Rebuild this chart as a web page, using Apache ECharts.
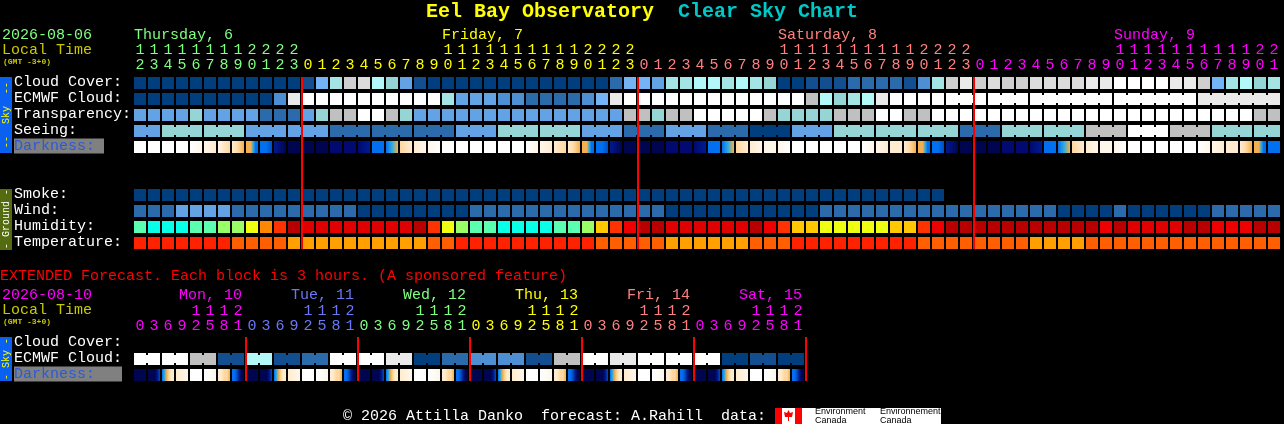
<!DOCTYPE html>
<html><head><meta charset="utf-8">
<style>html,body{margin:0;padding:0;background:#000}#c{width:1284px;height:424px}</style>
<script src="https://cdn.jsdelivr.net/npm/echarts@6/dist/echarts.min.js"></script>
</head><body><div id="c"></div>
<script>
// ---------- data ----------
const hourLabels=[12,13,14,15,16,17,18,19,20,21,22,23,
 0,1,2,3,4,5,6,7,8,9,10,11,12,13,14,15,16,17,18,19,20,21,22,23,
 0,1,2,3,4,5,6,7,8,9,10,11,12,13,14,15,16,17,18,19,20,21,22,23,
 0,1,2,3,4,5,6,7,8,9,10,11,12,13,14,15,16,17,18,19,20,21];
const extHourLabels=[0,3,6,9,12,15,18,21,0,3,6,9,12,15,18,21,0,3,6,9,12,15,18,21,0,3,6,9,12,15,18,21,0,3,6,9,12,15,18,21,0,3,6,9,12,15,18,21];
const rowNames=['Cloud Cover:','ECMWF Cloud:','Transparency:','Seeing:','Darkness:','','','Smoke:','Wind:','Humidity:','Temperature:'];
const extRowNames=['Cloud Cover:','ECMWF Cloud:','Darkness:'];
const dayNames=['Thursday, 6','Friday, 7','Saturday, 8','Sunday, 9'];
const dayCols=[0,22,46,70];
const extDayNames=['Mon, 10','Tue, 11','Wed, 12','Thu, 13','Fri, 14','Sat, 15'];
const extDayCols=[3,11,19,27,35,43];
const midnightCols=[12,36,60];
const extMidnightCols=[8,16,24,32,40,48];

const cloudCover=[0,0,0,0,0,0,0,0,0,0,0,0,1,5,7,10,11,8,6,4,1,0,
 0,0,0,0,0,0,0,0,0,0,0,0,2,5,5,4,7,7,8,8,7,8,7,6,0,0,1,1,1,2,
 2,2,2,1,3,7,10,12,10,11,10,10,11,11,11,11,12,12,13,13,13,13,12,12,10,5,7,8,6,7];
const ecmwfCloud=[0,0,0,0,0,0,0,0,0,0,3,12,13,13,13,13,13,13,13,13,13,13,
 7,4,4,4,3,3,2,2,2,2,3,5,12,13,13,13,13,13,13,13,13,13,13,13,13,13,9,8,6,7,
 8,12,
 13,13,13,13,13,13,13,13,13,13,
 13,13,13,13,13,13,13,13,13,13,
 13,13,
 12,12,12,12,12,12];
const ecmwfMergedFrom=[58,61,64,70,76];
const ecmwfMergedSpans=[3,3,6,6,6];
const transparency=[4,4,4,4,6,4,4,4,4,2,2,2,4,6,9,9,13,13,9,6,4,4,
 4,4,4,4,4,4,4,4,4,4,4,4,4,9,9,6,9,9,13,13,13,13,13,9,6,6,6,6,9,9,
 9,13,13,9,9,
 13,13,13,13,13,13,13,13,13,13,
 13,13,13,13,13,13,13,13,13,13,
 13,13,13,
 9,9];
const seeingBlocks=[4,6,6,4,4,2,2,2,4,6,6,4,2,4,2,0,4,6,6,6,2,6,6,9,13,9,6,6];
const seeingSpans=[2,3,3,3,3,3,3,3,3,3,3,3,3,3,3,3,3,3,3,3,3,3,3,3,3,3,3,2];
const SUNSET=[4,4,4,5,6,6];
const darkness=[[0],[0],[0],[0],[0,1],[1,2],[1,3],[2,3,4],SUNSET,[6,6,7],[8,10],[10],
 [10],[10],[9],[9],[9,8],[6,6],[6,5,4],[3,2],[2,1],[1,0],[0],[0],
 [0],[0],[0],[0],[0,1],[1,2],[2,3],[2,3,4],SUNSET,[6,6,7],[8,10],[10],
 [10],[10],[9],[9],[9,8],[6,6],[6,5,4],[3,2],[2,1],[1],[1,0],[0],
 [0],[0],[0],[0],[0,1],[1,2],[2],[2,3,4],SUNSET,[6,6,7],[8,10],[10],
 [10],[10],[9],[9],[9,8],[6,6],[6,5,4],[3,2],[2,1],[1],[1,0],[0],
 [0],[0],[0],[0],[0,1],[1,2],[2],[2,3,4],SUNSET,[6,6]];
const smoke=[0,0,0,0,0,0,0,0,0,0,
 0,0,0,0,0,0,0,0,0,0,
 0,0,0,0,0,0,0,0,0,0,
 0,0,0,0,0,0,0,0,0,0,
 0,0,0,0,0,0,0,0,0,0,
 0,0,0,0,0,0,0,0];
const wind=[2,2,2,4,4,4,4,2,2,2,2,2,2,2,2,2,0,0,0,0,0,0,
 0,0,2,2,2,2,2,2,2,2,2,2,2,2,2,2,0,0,0,0,0,0,0,0,0,0,0,2,2,2,
 2,2,2,2,2,2,2,2,2,2,2,2,2,2,0,0,0,0,2,0,0,0,0,0,0,2,2,2,2,2];
const humidity=[1,0,0,0,1,1,2,2,3,5,6,9,8,8,8,8,8,8,8,8,9,6,
 3,2,1,1,0,0,0,0,1,1,2,4,6,7,9,9,8,8,8,8,8,8,9,7,6,4,4,3,3,3,
 3,3,4,4,6,7,9,9,9,9,9,9,9,9,9,9,9,7,9,8,8,8,8,9,9,7,7,7,9,9];
const temperature=[0,0,0,0,0,0,0,1,1,1,1,2,2,2,2,2,2,2,2,2,2,1,
 1,0,0,0,0,0,0,0,0,0,0,1,1,1,1,1,2,2,2,2,2,2,1,1,1,0,0,0,0,0,
 0,0,0,0,1,1,1,1,1,1,1,1,2,2,2,2,1,1,1,1,1,1,1,1,1,1,1,1,1,1];
const extEcmwfBlocks=[13,13,9,1,8,1,2,13,13,12,0,2,3,3,1,9,13,12,13,13,13,0,1,0];
const extDarkness=[[10],[10,10,10,10,8,7],[6,5,4,3,2,2],[2,1],[0],[0,1],[2,2,3,3,4],[6,6,7,8,10,10]];

// ---------- colour scales ----------
const skyColors=['#003e7e','#134f90','#2c6bab','#4e8fd3','#63a2e4','#75b3f7','#95d5d5','#a4e4e4','#b2f8f8','#c0c0c0','#cfcfcf','#dcdcdc','#eaeaea','#ffffff'];
const humColors=['#08ffe8','#5affaf','#99ff66','#eeff11','#ffc800','#ff8800','#ff3300','#ee0000','#e00000','#b80000'];
const tempColors=['#ff2200','#ff5f00','#ffa000'];
const darkColors=['#ffffff','#fff6ea','#ffecd0','#ffd8a0','#f4b050','#33aadd','#0070f0','#0050c0','#001a90','#000a70','#000550'];
const FONT='"Liberation Mono"';
const dayColor={g:'#80ff80',y:'#ffff00',s:'#ff8080',m:'#ff00ff',b:'#6a78f8'};
const rich={};Object.keys(dayColor).forEach(k=>rich[k]={color:dayColor[k],fontFamily:FONT,fontSize:15,lineHeight:15});

const single=a=>a.map(v=>[v,0]);
function expand(vals,spans){const out=[];vals.forEach((v,i)=>{for(let k=0;k<spans[i];k++)out.push([v,k<spans[i]-1?1:0]);});return out;}
function merged(vals,froms,spans){const out=single(vals);froms.forEach((f,i)=>{for(let k=0;k<spans[i]-1;k++)out[f+k][1]=1;});return out;}
function cellSeries(name,gridIdx,row,cells,colors){
  const data=cells.map((c,i)=>[i,row,c[0],c[1]]);
  return {name,type:'custom',xAxisIndex:gridIdx,yAxisIndex:gridIdx,data,encode:{x:0,y:1},silent:true,clip:false,animation:false,
    renderItem(p,api){
      const pt=api.coord([api.value(0),api.value(1)]),sz=api.size([1,1]);
      const w=sz[0]-2,h=sz[1]-4,x=pt[0]-w/2,y=pt[1]-h/2,fill=colors[api.value(2)];
      const ch=[{type:'rect',shape:{x,y,width:w,height:h},style:{fill}}];
      if(api.value(3))ch.push({type:'rect',shape:{x:x+w,y:y+2,width:2,height:h-4},style:{fill}});
      return {type:'group',children:ch};
    }};
}
function darkSeries(gridIdx,row,samples){
  return {name:'Darkness',type:'custom',xAxisIndex:gridIdx,yAxisIndex:gridIdx,data:samples.map((s,i)=>[i,row]),encode:{x:0,y:1},silent:true,animation:false,
    renderItem(p,api){
      const c=api.value(0),pt=api.coord([c,api.value(1)]),sz=api.size([1,1]),s=samples[c];
      const w=sz[0]-2,h=sz[1]-4;
      const stops=s.length===1?[{offset:0,color:darkColors[s[0]]},{offset:1,color:darkColors[s[0]]}]:s.map((v,i)=>({offset:i/(s.length-1),color:darkColors[v]}));
      return {type:'rect',shape:{x:pt[0]-w/2,y:pt[1]-h/2,width:w,height:h},style:{fill:{type:'linear',x:0,y:0,x2:1,y2:0,colorStops:stops}}};
    }};
}
function lineSeries(gridIdx,cols,lastRow,colCount){
  return {name:'Midnight',type:'custom',xAxisIndex:gridIdx,yAxisIndex:gridIdx,data:cols.map(c=>[c,0]),encode:{x:0,y:1},silent:true,clip:false,animation:false,z:5,
    renderItem(p,api){
      const c=api.value(0),sz=api.size([1,1]),k=Math.min(c,colCount-1);
      const a=api.coord([k,0]),b=api.coord([k,lastRow]),over=(c-k)*sz[0];
      return {type:'rect',shape:{x:a[0]-sz[0]/2+over,y:a[1]-sz[1]/2+2,width:2,height:b[1]-a[1]+sz[1]-4},style:{fill:'#ff0000'}};
    }};
}
function headSeries(gridIdx,names,cols,colors,dx,dy){
  return {name:'Days',type:'custom',xAxisIndex:gridIdx,yAxisIndex:gridIdx,data:names.map((n,i)=>[cols[i],0,i]),encode:{x:0,y:1},silent:true,clip:false,animation:false,
    renderItem(p,api){
      const i=api.value(2),pt=api.coord([api.value(0),0]);
      return {type:'text',x:pt[0]+dx,y:pt[1]+dy,style:{text:names[i],fill:colors[i],font:'15px '+FONT,textAlign:'left',textVerticalAlign:'middle'}};
    }};
}
function rowAxis(gridIdx,names,grey){
  return {gridIndex:gridIdx,type:'category',inverse:true,data:names,axisLine:{show:false},axisTick:{show:false},splitLine:{show:false},
    axisLabel:{show:true,interval:0,align:'left',margin:119,padding:[0,0,2,0],
      formatter:v=>v==='Darkness:'?'{d|'+v+'}':'{w|'+v+'}',
      rich:{w:{color:'#fff',fontFamily:FONT,fontSize:15,lineHeight:16},
            d:{color:'#2a5ad8',fontFamily:FONT,fontSize:15,backgroundColor:'#808080',width:grey,height:15,lineHeight:15}}}};
}
function hourAxis(gridIdx,labels,keyOf,margin){
  return {gridIndex:gridIdx,type:'category',position:'top',data:labels.map(String),axisLine:{show:false},axisTick:{show:false},splitLine:{show:false},
    axisLabel:{show:true,interval:0,hideOverlap:false,margin,rich,
      formatter:(v,i)=>{const k=keyOf(i),n=+v;return '{'+k+'|'+(n>=10?Math.floor(n/10):' ')+'}\n{'+k+'|'+(n%10)+'}';}}};
}
const txt=(text,x,y,fill,size,weight)=>({type:'text',x,y,style:{text,fill,font:(weight||'normal')+' '+size+'px '+FONT,textVerticalAlign:'middle'}});
const vtxt=(text,cx,cy,fill)=>({type:'text',x:cx,y:cy,rotation:Math.PI/2,style:{text,fill,font:'10px '+FONT,textAlign:'center',textVerticalAlign:'middle'}});
const box=(x,y,width,height,fill)=>({type:'rect',shape:{x,y,width,height},style:{fill}});
const logoTxt=(text,x,y)=>({type:'text',x,y,style:{text,fill:'#000',font:'9px "Liberation Sans"',textVerticalAlign:'middle'}});

const option={
  backgroundColor:'#000',animation:false,
  grid:[{left:133,top:75,width:82*14,height:176},{left:133,top:335,width:48*14,height:48}],
  xAxis:[hourAxis(0,hourLabels,i=>i<12?'g':i<36?'y':i<60?'s':'m',2),
         hourAxis(1,extHourLabels,i=>['m','b','g','y','s','m'][Math.floor(i/8)],1)],
  yAxis:[rowAxis(0,rowNames,90),rowAxis(1,extRowNames,108)],
  series:[
    cellSeries('Cloud Cover',0,0,single(cloudCover),skyColors),
    cellSeries('ECMWF Cloud',0,1,merged(ecmwfCloud,ecmwfMergedFrom,ecmwfMergedSpans),skyColors),
    cellSeries('Transparency',0,2,single(transparency),skyColors),
    cellSeries('Seeing',0,3,expand(seeingBlocks,seeingSpans),skyColors),
    darkSeries(0,4,darkness),
    cellSeries('Smoke',0,7,single(smoke),skyColors),
    cellSeries('Wind',0,8,single(wind),skyColors),
    cellSeries('Humidity',0,9,single(humidity),humColors),
    cellSeries('Temperature',0,10,single(temperature),tempColors),
    lineSeries(0,midnightCols,10,82),
    headSeries(0,dayNames,dayCols,[dayColor.g,dayColor.y,dayColor.s,dayColor.m],-6,-48),
    cellSeries('ECMWF Cloud ext',1,1,expand(extEcmwfBlocks,extEcmwfBlocks.map(()=>2)),skyColors),
    darkSeries(1,2,Array.from({length:48},(_,i)=>extDarkness[i%8])),
    lineSeries(1,extMidnightCols,2,48),
    headSeries(1,extDayNames,extDayCols,[dayColor.m,dayColor.b,dayColor.g,dayColor.y,dayColor.s,dayColor.m],-3,-48)
  ],
  graphic:{elements:[
    txt('Eel Bay Observatory',426,12,'#ffff00',20,'bold'),
    txt('Clear Sky Chart',678,12,'#00c8c8',20,'bold'),
    txt('2026-08-06',2,35,'#80ff80',15),
    txt('Local Time',2,50,'#c8c800',15),
    txt('(GMT -3+0)',3,62,'#c8c800',8,'bold'),
    box(0,77,12,76,'#0a60f0'),
    vtxt('--  Sky  --',6,115,'#ffff00'),
    box(0,189,12,61,'#556b10'),
    vtxt('- Ground -',6,219,'#ffffff'),
    txt('EXTENDED Forecast. Each block is 3 hours. (A sponsored feature)',0,276,'#ff0000',15),
    txt('2026-08-10',2,295,'#ff00ff',15),
    txt('Local Time',2,310,'#c8c800',15),
    txt('(GMT -3+0)',3,322,'#c8c800',8,'bold'),
    box(0,337,12,44,'#0a60f0'),
    vtxt('- Sky -',6,359,'#ffff00'),
    txt('\u00a9 2026 Attilla Danko  forecast: A.Rahill  data:',343,416,'#ffffff',15),
    box(775,408,166,16,'#ffffff'),
    box(775,408,7,16,'#ff0000'),
    box(795,408,7,16,'#ff0000'),
    {type:'polygon',shape:{points:[[788.5,410],[790,413],[793,412],[792,417],[789,417],[789,421],[788,421],[788,417],[785,417],[784,412],[787,413]]},style:{fill:'#ff0000'}},
    logoTxt('Environment',815,412),logoTxt('Canada',815,421),
    logoTxt('Environnement',880,412),logoTxt('Canada',880,421)
  ]}
};
echarts.init(document.getElementById('c')).setOption(option);
</script></body></html>
